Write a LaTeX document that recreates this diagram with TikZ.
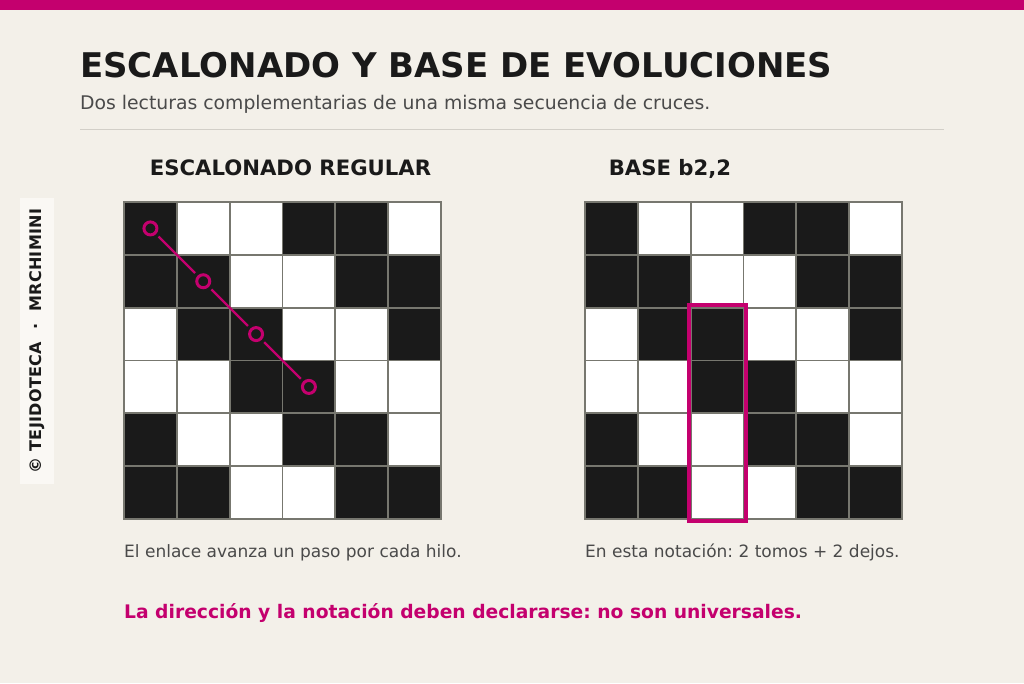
\documentclass[tikz,border=0pt]{standalone}
\usepackage{fontspec}
\setmainfont{DejaVu Sans}
\newfontfamily\sidefont[LetterSpace=2]{DejaVu Sans}
\definecolor{bg}{HTML}{F3F0E9}
\definecolor{mag}{HTML}{C4006E}
\definecolor{ink}{HTML}{1A1A1A}
\definecolor{grayt}{HTML}{4A4A4A}
\definecolor{rulec}{HTML}{D2CFC8}
\definecolor{gridc}{HTML}{77776F}
\definecolor{sidebox}{HTML}{FAF8F4}
\frenchspacing
\begin{document}
\begin{tikzpicture}[x=1pt,y=-1pt,
  txt/.style={inner sep=0, anchor=base west},
  cellb/.style={draw=gridc, line width=1.8, fill=ink},
  cellw/.style={draw=gridc, line width=1.8, fill=white},
  dot/.style={circle, draw=mag, line width=3, minimum size=13, inner sep=0},
  link/.style={draw=mag, line width=2.4, shorten >=3.5, shorten <=3.5}]
\fill[bg] (0,0) rectangle (1024,683);
\useasboundingbox (0,0) rectangle (1024,683);
\fill[mag] (0,0) rectangle (1024,10);
\node[txt, text=ink, font=\bfseries\fontsize{34}{40}\selectfont] (title) at (80,77) {ESCALONADO Y BASE DE EVOLUCIONES};
\node[txt, text=grayt, font=\fontsize{18.8}{22}\selectfont] (sub) at (80,109) {Dos lecturas complementarias de una misma secuencia de cruces.};
\draw[rulec, line width=1.5] (80,129.5) -- (944,129.5);
\node[anchor=base, inner sep=0, text=ink, font=\bfseries\fontsize{21.2}{25}\selectfont] (h1) at (290.5,175) {ESCALONADO REGULAR};
\node[anchor=base, inner sep=0, text=ink, font=\bfseries\fontsize{21.2}{25}\selectfont] (h2) at (670,175) {BASE b2,2};
\def\s{52.833}
\foreach \ox in {124,585}{
\foreach \row [count=\r from 0] in {{1,0,0,1,1,0},{1,1,0,0,1,1},{0,1,1,0,0,1},{0,0,1,1,0,0},{1,0,0,1,1,0},{1,1,0,0,1,1}}{
  \foreach \v [count=\c from 0] in \row {
    \ifnum\v=1
      \path[cellb] ({\ox+\c*\s},{202+\r*\s}) rectangle ++(\s,\s);
    \else
      \path[cellw] ({\ox+\c*\s},{202+\r*\s}) rectangle ++(\s,\s);
    \fi
  }
}}
\foreach \i in {0,1,2,3}{
  \node[dot] (d\i) at ({124+(\i+0.5)*\s},{202+(\i+0.5)*\s}) {};
}
\draw[link] (d0) -- (d1);
\draw[link] (d1) -- (d2);
\draw[link] (d2) -- (d3);
\draw[mag, line width=4] (688.5,305) rectangle (745.5,520.5);
\node[txt, text=grayt, font=\fontsize{17}{20}\selectfont] (cap1) at (124,557) {El enlace avanza un paso por cada hilo.};
\node[txt, text=grayt, font=\fontsize{17}{20}\selectfont] (cap2) at (585,557) {En esta notación: 2 tomos + 2 dejos.};
\node[txt, text=mag, font=\bfseries\fontsize{18.7}{22}\selectfont] (note) at (124,618) {La dirección y la notación deben declararse: no son universales.};
\fill[sidebox] (20,198) rectangle (54,484);
\node[rotate=90, inner sep=0, text=ink, font=\sidefont\bfseries\fontsize{16}{19}\selectfont] (side) at (37,341) {©\hspace{6pt}TEJIDOTECA\hspace{12pt}·\hspace{12pt}MRCHIMINI};
\end{tikzpicture}
\end{document}
